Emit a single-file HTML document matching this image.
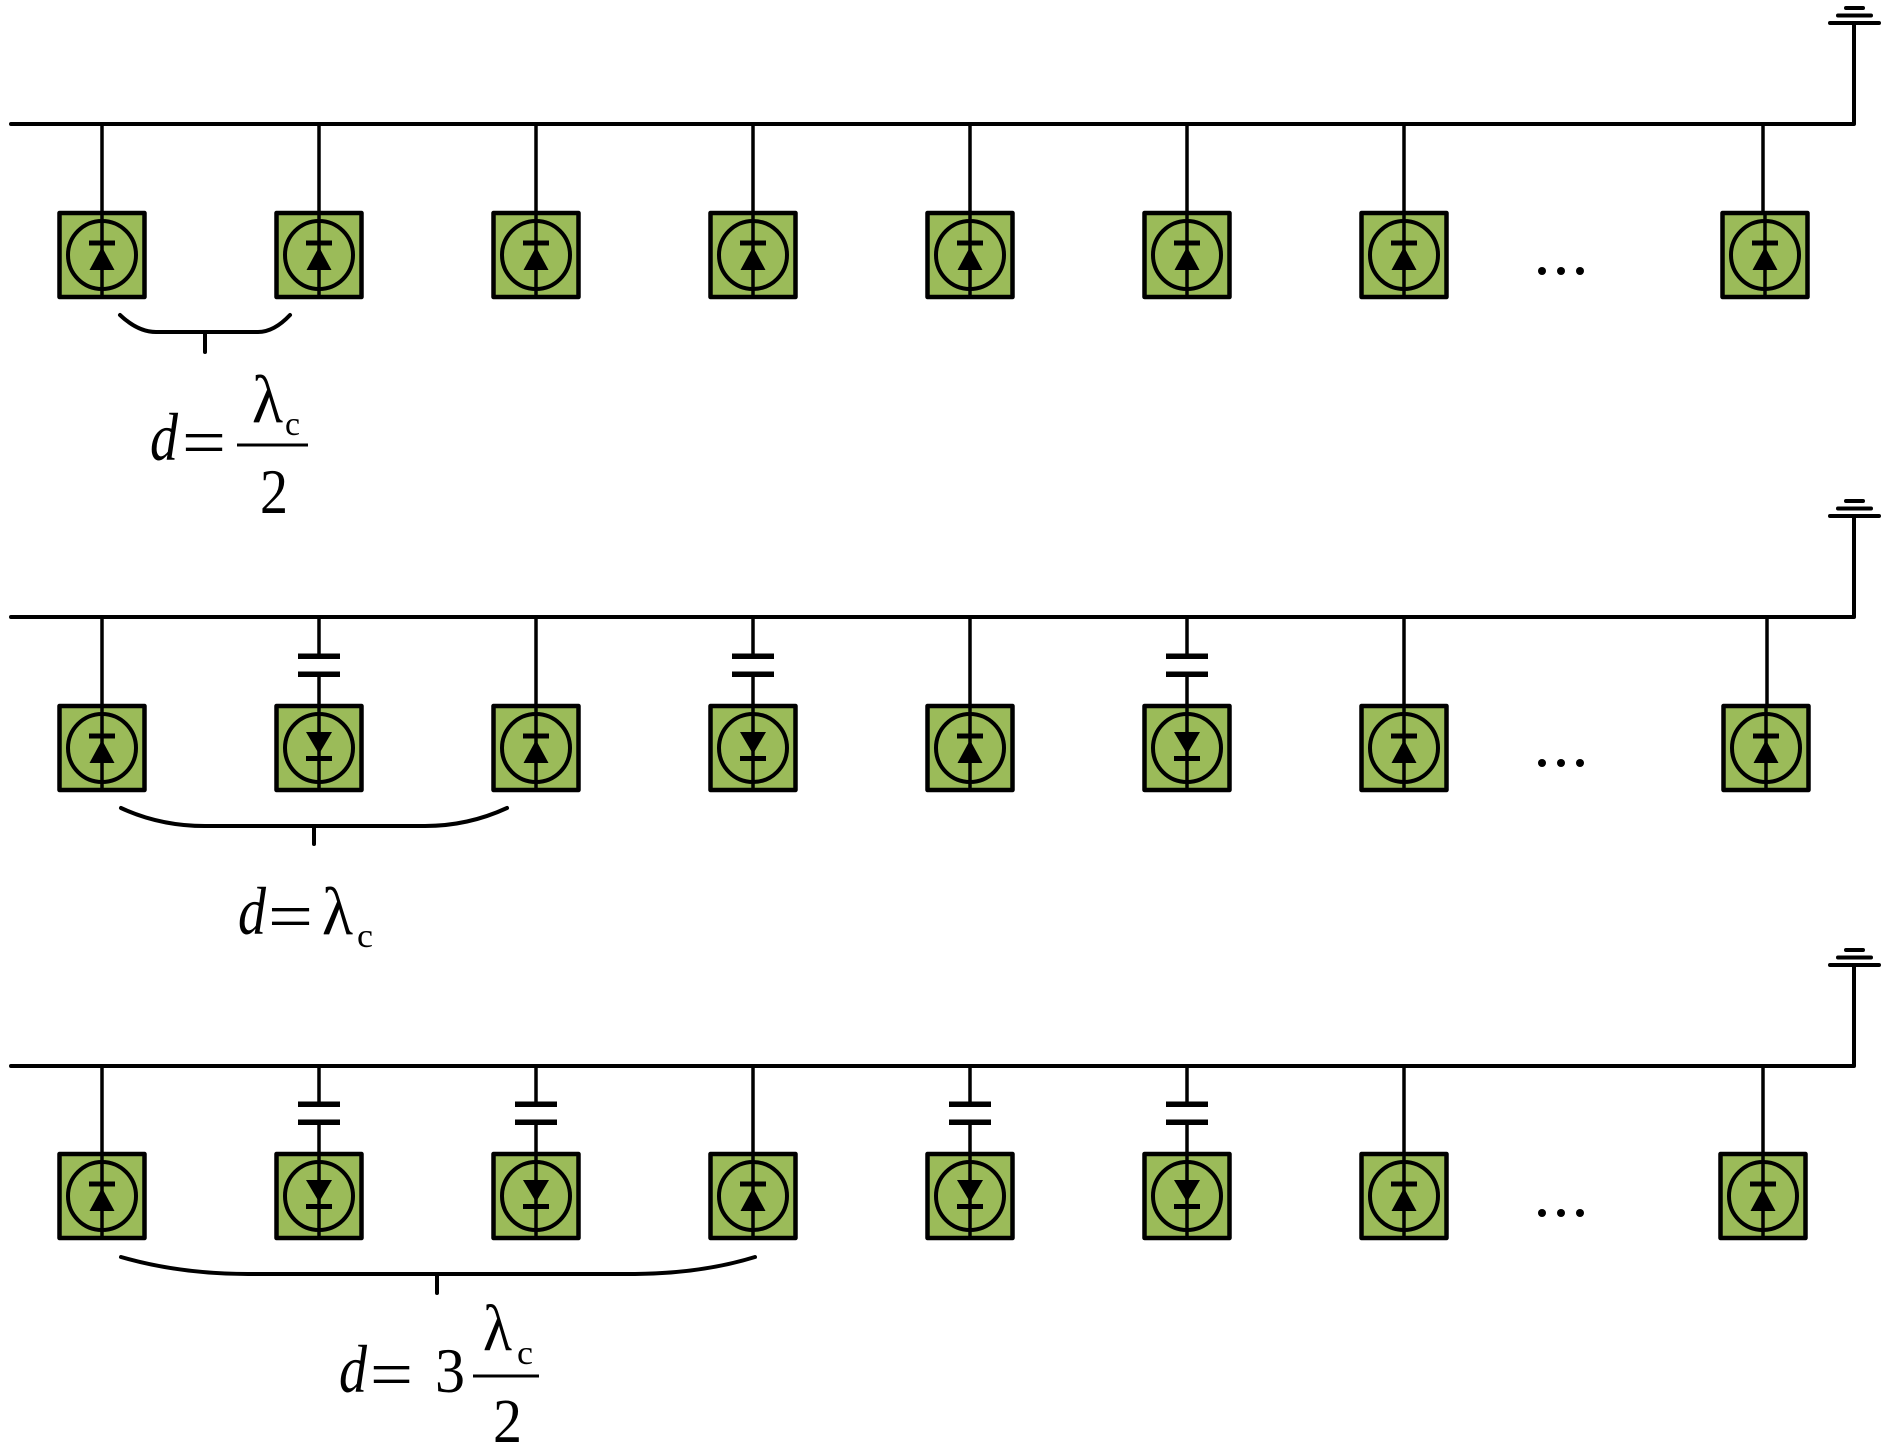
<!DOCTYPE html>
<html>
<head>
<meta charset="utf-8">
<style>
  html, body { margin: 0; padding: 0; background: #ffffff; }
  svg { display: block; }
  text { font-family: "Liberation Serif", "DejaVu Serif", serif; fill: #000; }
</style>
</head>
<body>
<svg width="1890" height="1450" viewBox="0 0 1890 1450" xmlns="http://www.w3.org/2000/svg">
  <defs>
    <g id="up">
      <rect x="-42.5" y="2" width="85" height="84" fill="#9BBB59" stroke="#000" stroke-width="4.5" stroke-linejoin="round"/>
      <circle cx="0" cy="44" r="34" fill="none" stroke="#000" stroke-width="4"/>
      <line x1="0" y1="0" x2="0" y2="86" stroke="#000" stroke-width="3.5"/>
      <rect x="-13" y="29.5" width="26" height="5" fill="#000"/>
      <polygon points="0,36 -12.5,59 12.5,59" fill="#000"/>
    </g>
    <g id="down">
      <rect x="-42.5" y="2" width="85" height="84" fill="#9BBB59" stroke="#000" stroke-width="4.5" stroke-linejoin="round"/>
      <circle cx="0" cy="44" r="34" fill="none" stroke="#000" stroke-width="4"/>
      <line x1="0" y1="0" x2="0" y2="86" stroke="#000" stroke-width="3.5"/>
      <polygon points="-13,28 13,28 0,50" fill="#000"/>
      <rect x="-13" y="52" width="26" height="5" fill="#000"/>
    </g>
    <g id="ground">
      <line x1="1830" y1="0" x2="1879" y2="0" stroke="#000" stroke-width="4" stroke-linecap="round"/>
      <line x1="1838" y1="-7.5" x2="1871" y2="-7.5" stroke="#000" stroke-width="4" stroke-linecap="round"/>
      <line x1="1846" y1="-15" x2="1863" y2="-15" stroke="#000" stroke-width="4" stroke-linecap="round"/>
    </g>
  </defs>

  <g stroke="#000" stroke-width="4" fill="none" stroke-linecap="round" stroke-linejoin="round">
    <path d="M11,124 H1854 V23"/>
    <path d="M11,617 H1854 V516"/>
    <path d="M11,1066 H1854 V965"/>
  </g>
  <use href="#ground" x="0" y="23"/>
  <use href="#ground" x="0" y="516"/>
  <use href="#ground" x="0" y="965"/>

  <!-- Row 1 connectors -->
  <g stroke="#000" stroke-width="3.5">
    <line x1="102" y1="124" x2="102" y2="213"/>
    <line x1="319" y1="124" x2="319" y2="213"/>
    <line x1="536" y1="124" x2="536" y2="213"/>
    <line x1="753" y1="124" x2="753" y2="213"/>
    <line x1="970" y1="124" x2="970" y2="213"/>
    <line x1="1187" y1="124" x2="1187" y2="213"/>
    <line x1="1404" y1="124" x2="1404" y2="213"/>
    <line x1="1763" y1="124" x2="1763" y2="213"/>
  </g>
  <use href="#up" x="102" y="211"/>
  <use href="#up" x="319" y="211"/>
  <use href="#up" x="536" y="211"/>
  <use href="#up" x="753" y="211"/>
  <use href="#up" x="970" y="211"/>
  <use href="#up" x="1187" y="211"/>
  <use href="#up" x="1404" y="211"/>
  <use href="#up" x="1765" y="211"/>
  <g fill="#000">
    <circle cx="1542" cy="271" r="4"/>
    <circle cx="1561" cy="271" r="4"/>
    <circle cx="1580" cy="271" r="4"/>
  </g>

  <!-- Row 2 connectors -->
  <g stroke="#000" stroke-width="3.5">
    <line x1="102" y1="617" x2="102" y2="706"/>
    <line x1="536" y1="617" x2="536" y2="706"/>
    <line x1="970" y1="617" x2="970" y2="706"/>
    <line x1="1404" y1="617" x2="1404" y2="706"/>
    <line x1="1767" y1="617" x2="1767" y2="706"/>
    <line x1="319" y1="617" x2="319" y2="656"/>
    <line x1="319" y1="674" x2="319" y2="706"/>
    <line x1="753" y1="617" x2="753" y2="656"/>
    <line x1="753" y1="674" x2="753" y2="706"/>
    <line x1="1187" y1="617" x2="1187" y2="656"/>
    <line x1="1187" y1="674" x2="1187" y2="706"/>
  </g>
  <g fill="#000">
    <rect x="298" y="653.5" width="42" height="5.5"/>
    <rect x="298" y="671.5" width="42" height="5.5"/>
    <rect x="732" y="653.5" width="42" height="5.5"/>
    <rect x="732" y="671.5" width="42" height="5.5"/>
    <rect x="1166" y="653.5" width="42" height="5.5"/>
    <rect x="1166" y="671.5" width="42" height="5.5"/>
  </g>
  <use href="#up" x="102" y="704"/>
  <use href="#down" x="319" y="704"/>
  <use href="#up" x="536" y="704"/>
  <use href="#down" x="753" y="704"/>
  <use href="#up" x="970" y="704"/>
  <use href="#down" x="1187" y="704"/>
  <use href="#up" x="1404" y="704"/>
  <use href="#up" x="1766" y="704"/>
  <g fill="#000">
    <circle cx="1542" cy="763" r="4"/>
    <circle cx="1561" cy="763" r="4"/>
    <circle cx="1580" cy="763" r="4"/>
  </g>

  <!-- Row 3 connectors -->
  <g stroke="#000" stroke-width="3.5">
    <line x1="102" y1="1066" x2="102" y2="1154"/>
    <line x1="753" y1="1066" x2="753" y2="1154"/>
    <line x1="1404" y1="1066" x2="1404" y2="1154"/>
    <line x1="1763" y1="1066" x2="1763" y2="1154"/>
    <line x1="319" y1="1066" x2="319" y2="1104"/>
    <line x1="319" y1="1122" x2="319" y2="1154"/>
    <line x1="536" y1="1066" x2="536" y2="1104"/>
    <line x1="536" y1="1122" x2="536" y2="1154"/>
    <line x1="970" y1="1066" x2="970" y2="1104"/>
    <line x1="970" y1="1122" x2="970" y2="1154"/>
    <line x1="1187" y1="1066" x2="1187" y2="1104"/>
    <line x1="1187" y1="1122" x2="1187" y2="1154"/>
  </g>
  <g fill="#000">
    <rect x="298" y="1101.5" width="42" height="5.5"/>
    <rect x="298" y="1119.5" width="42" height="5.5"/>
    <rect x="515" y="1101.5" width="42" height="5.5"/>
    <rect x="515" y="1119.5" width="42" height="5.5"/>
    <rect x="949" y="1101.5" width="42" height="5.5"/>
    <rect x="949" y="1119.5" width="42" height="5.5"/>
    <rect x="1166" y="1101.5" width="42" height="5.5"/>
    <rect x="1166" y="1119.5" width="42" height="5.5"/>
  </g>
  <use href="#up" x="102" y="1152"/>
  <use href="#down" x="319" y="1152"/>
  <use href="#down" x="536" y="1152"/>
  <use href="#up" x="753" y="1152"/>
  <use href="#down" x="970" y="1152"/>
  <use href="#down" x="1187" y="1152"/>
  <use href="#up" x="1404" y="1152"/>
  <use href="#up" x="1763" y="1152"/>
  <g fill="#000">
    <circle cx="1542" cy="1213" r="4"/>
    <circle cx="1561" cy="1213" r="4"/>
    <circle cx="1580" cy="1213" r="4"/>
  </g>

  <!-- Braces -->
  <g stroke="#000" stroke-width="4" fill="none" stroke-linecap="round">
    <path d="M120,315 Q138,332 156,332 H258 Q274,332 290,315"/>
    <path d="M205,332 V352"/>
    <path d="M121,808 Q160,826 205,826 H425 Q468,826 507,808"/>
    <path d="M314,826 V844"/>
    <path d="M121,1257 Q180,1274 248,1274 H630 Q700,1274 755,1257"/>
    <path d="M437,1274 V1293"/>
  </g>

  <!-- Label 1: d = λc / 2 -->
  <text x="150" y="460" font-size="68" font-style="italic" textLength="28" lengthAdjust="spacingAndGlyphs">d</text>
  <text x="182" y="465" font-size="68" textLength="44" lengthAdjust="spacingAndGlyphs">=</text>
  <line x1="237" y1="445" x2="308" y2="445" stroke="#000" stroke-width="3"/>
  <text x="252" y="422" font-size="68" textLength="31" lengthAdjust="spacingAndGlyphs">λ</text>
  <text x="285" y="435" font-size="34" textLength="15" lengthAdjust="spacingAndGlyphs">c</text>
  <text x="260" y="513" font-size="64" textLength="28" lengthAdjust="spacingAndGlyphs">2</text>

  <!-- Label 2: d = λc -->
  <text x="238" y="934" font-size="68" font-style="italic" textLength="28" lengthAdjust="spacingAndGlyphs">d</text>
  <text x="268" y="939" font-size="68" textLength="45" lengthAdjust="spacingAndGlyphs">=</text>
  <text x="322" y="934" font-size="68" textLength="31" lengthAdjust="spacingAndGlyphs">λ</text>
  <text x="357" y="947" font-size="34" textLength="16" lengthAdjust="spacingAndGlyphs">c</text>

  <!-- Label 3: d = 3 λc / 2 -->
  <text x="339" y="1392" font-size="68" font-style="italic" textLength="28" lengthAdjust="spacingAndGlyphs">d</text>
  <text x="370" y="1397" font-size="68" textLength="43" lengthAdjust="spacingAndGlyphs">=</text>
  <text x="435" y="1392" font-size="64" textLength="30" lengthAdjust="spacingAndGlyphs">3</text>
  <line x1="473" y1="1376" x2="539" y2="1376" stroke="#000" stroke-width="3"/>
  <text x="483" y="1350" font-size="66" textLength="29" lengthAdjust="spacingAndGlyphs">λ</text>
  <text x="517" y="1364" font-size="34" textLength="16" lengthAdjust="spacingAndGlyphs">c</text>
  <text x="493" y="1442" font-size="62" textLength="29" lengthAdjust="spacingAndGlyphs">2</text>
</svg>
</body>
</html>
